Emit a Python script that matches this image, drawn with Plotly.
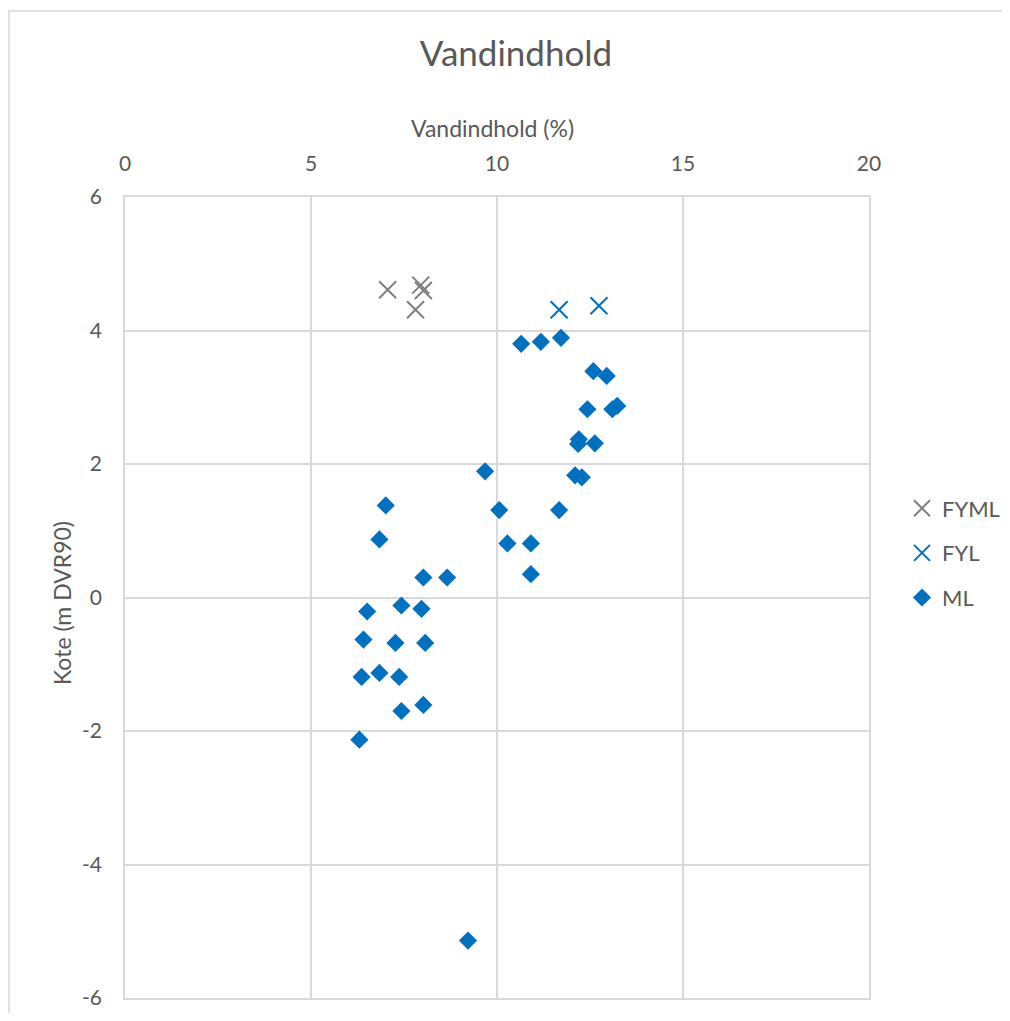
import plotly.graph_objects as go

# FYML series (gray x markers)
fyml_x = [7.06, 7.95, 8.02, 7.81]
fyml_y = [4.61, 4.68, 4.60, 4.31]

# FYL series (blue x markers)
fyl_x = [11.67, 12.74]
fyl_y = [4.31, 4.37]

# ML series (blue diamonds)
ml_x = [10.65, 11.18, 11.72, 12.59, 12.95, 12.43, 13.10, 13.23, 12.20, 12.18, 12.63,
        9.68, 12.10, 12.28, 7.01, 10.06, 11.67, 6.84, 10.28, 10.91, 10.91, 8.02, 8.66,
        6.51, 7.43, 7.97, 6.41, 7.27, 8.07, 6.36, 6.84, 7.37, 7.43, 8.02, 6.30, 9.22]
ml_y = [3.80, 3.83, 3.89, 3.39, 3.32, 2.82, 2.82, 2.87, 2.37, 2.30, 2.31,
        1.89, 1.83, 1.80, 1.38, 1.31, 1.31, 0.87, 0.81, 0.81, 0.35, 0.30, 0.30,
        -0.21, -0.12, -0.17, -0.63, -0.68, -0.68, -1.19, -1.13, -1.19, -1.70, -1.61, -2.13, -5.14]

x_ticks = [0, 5, 10, 15, 20]
x_ticktext = ["0", "5", "10", "15", "20"]
y_ticks = [-6, -4, -2, 0, 2, 4, 6]
y_ticktext = ["-6", "-4", "-2", "0", "2", "4", "6"]

TXT = "#595959"
GRID = "#d9d9d9"
FONT = "Lato, Open Sans, sans-serif"

# page body has an 8px offset; plot area spans x 125..869, y 197..998 in the window
L, T, PW, PH = 117, 189, 744, 801
W, H = 994, 1005

fig = go.Figure()
fig.add_trace(go.Scatter(x=fyml_x, y=fyml_y, mode="markers", name="FYML", legendgroup="a",
                         marker=dict(symbol="x-thin", size=17, line=dict(color="#7f7f7f", width=2))))
fig.add_trace(go.Scatter(x=fyl_x, y=fyl_y, mode="markers", name="FYL", legendgroup="b",
                         marker=dict(symbol="x-thin", size=17, line=dict(color="#0070C0", width=2))))
fig.add_trace(go.Scatter(x=ml_x, y=ml_y, mode="markers", name="ML", legendgroup="c",
                         marker=dict(symbol="diamond", size=14, color="#0070C0")))

fig.update_layout(
    width=W, height=H,
    margin=dict(l=L, r=W - L - PW, t=T, b=H - T - PH, autoexpand=False),
    paper_bgcolor="white", plot_bgcolor="white",
    font=dict(family=FONT, size=21, color=TXT),
    title=dict(text="Vandindhold", x=(516 - 8) / W, xanchor="center", y=1 - (54 - 8) / H, yanchor="middle",
               font=dict(size=35, color=TXT)),
    showlegend=True,
    legend=dict(x=(902 - 125) / PW, xanchor="left", y=(998 - 553) / PH, yanchor="middle", tracegroupgap=13,
                font=dict(size=22, color=TXT), bgcolor="rgba(0,0,0,0)"),
    shapes=[dict(type="rect", xref="paper", yref="paper",
                 x0=(9 - 125) / PW, x1=(1030 - 125) / PW,
                 y0=(998 - 1040) / PH, y1=1 + (197 - 11) / PH,
                 line=dict(color=GRID, width=1.5), layer="below")],
    annotations=[
        dict(text="Vandindhold (%)", xref="paper", yref="paper", x=(492 - 125) / PW, y=1 + (197 - 128) / PH,
             xanchor="center", yanchor="middle", showarrow=False, font=dict(size=23, color=TXT)),
        dict(text="Kote (m DVR90)", xref="paper", yref="paper", x=(62 - 125) / PW, y=(998 - 603) / PH,
             xanchor="center", yanchor="middle", textangle=-90, showarrow=False, font=dict(size=23, color=TXT)),
    ],
)
fig.update_xaxes(range=[0, 20], tickvals=x_ticks, ticktext=x_ticktext, side="top", showgrid=True,
                 gridcolor=GRID, gridwidth=1.5, zeroline=False, showline=True, linecolor=GRID, linewidth=1.5,
                 mirror=True, ticks="", ticklabelstandoff=16, tickfont=dict(size=21, color=TXT), automargin=False)
fig.update_yaxes(range=[-6, 6], tickvals=y_ticks, ticktext=y_ticktext, showgrid=True,
                 gridcolor=GRID, gridwidth=1.5, zeroline=False, showline=True, linecolor=GRID, linewidth=1.5,
                 mirror=True, ticks="", ticklabelstandoff=17, tickfont=dict(size=21, color=TXT), automargin=False)

fig.write_html("out.html")
